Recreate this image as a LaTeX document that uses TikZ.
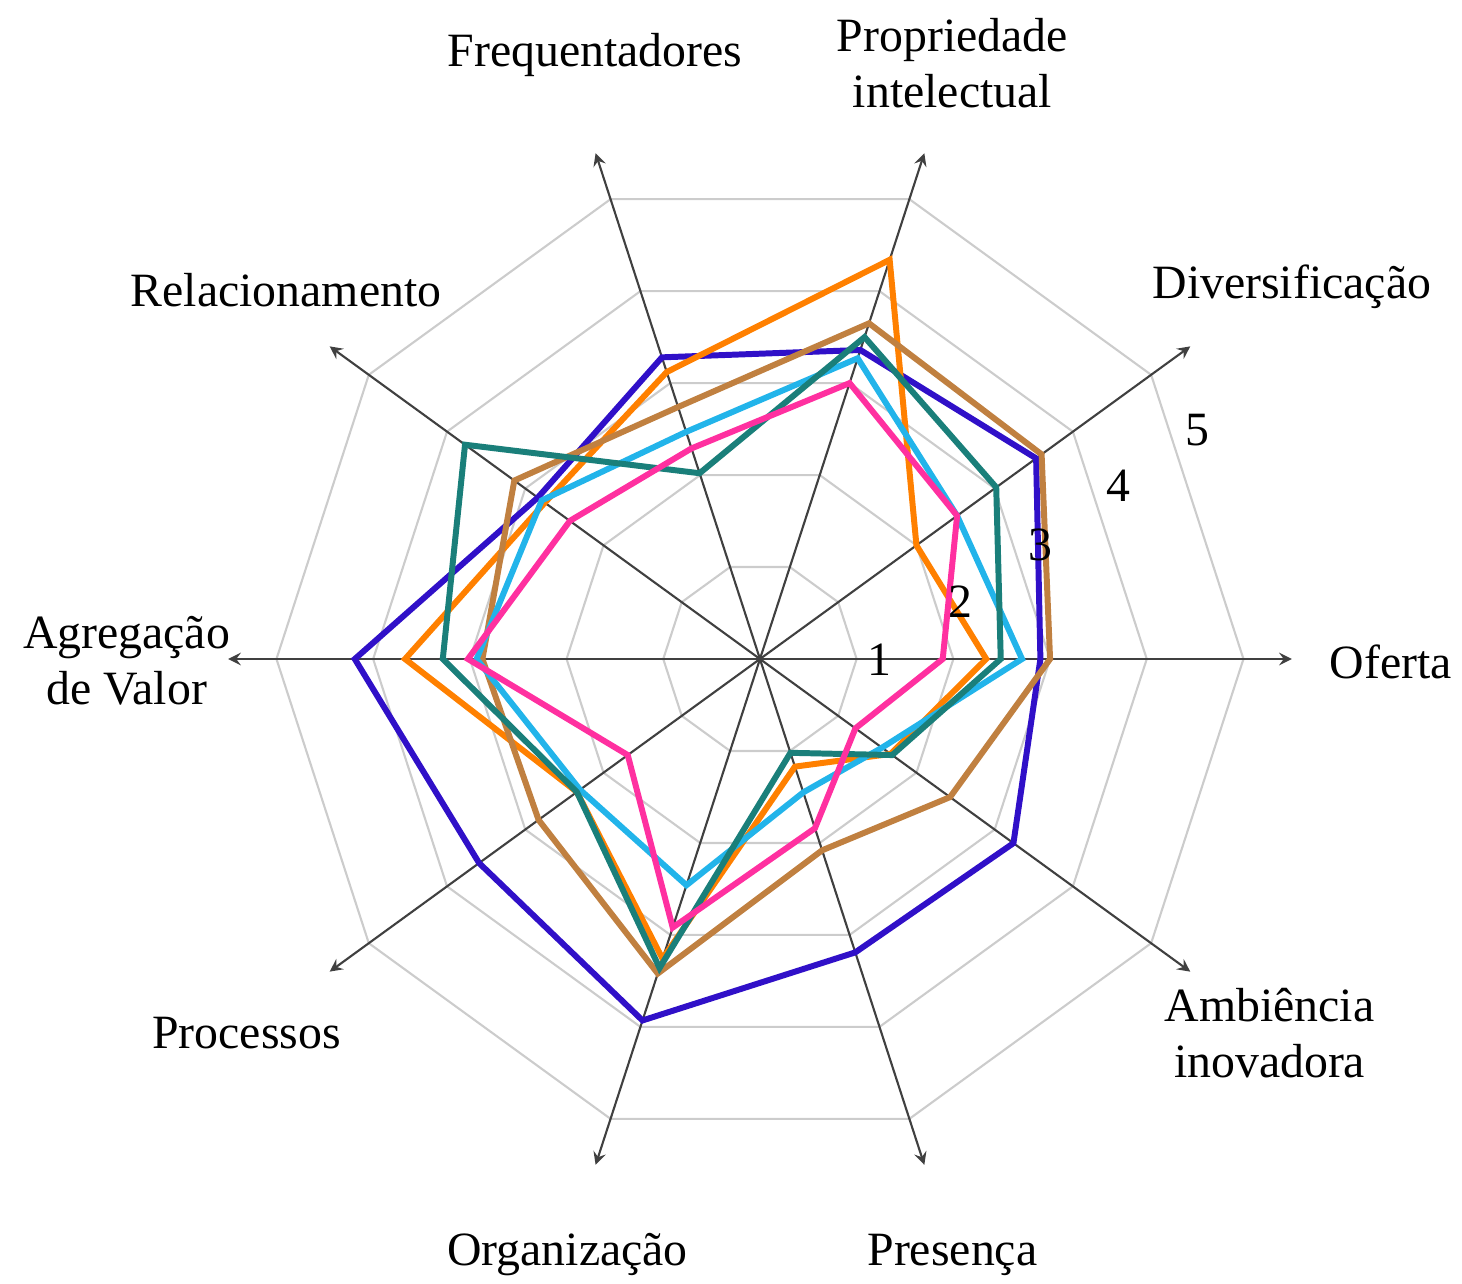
\documentclass[tikz,border=0pt]{standalone}
\usepackage{fontspec}
\setmainfont{Liberation Serif}

\definecolor{serblue}{HTML}{3010C8}
\definecolor{serorange}{HTML}{FF8000}
\definecolor{serbrown}{HTML}{C08040}
\definecolor{serteal}{HTML}{1A7F7A}
\definecolor{sercyan}{HTML}{22B4EA}
\definecolor{serpink}{HTML}{FF30A0}

\tikzset{
  gridline/.style={gray!40, line width=0.6pt},
  axisline/.style={black!75, line width=0.6pt, -stealth},
  series/.style={line width=1.7pt, line join=miter},
  axislabel/.style={font=\fontsize{13.6}{16}\selectfont, align=center},
  ticklabel/.style={font=\fontsize{13.6}{16}\selectfont}
}

\begin{document}
\begin{tikzpicture}[x=0.967cm, y=0.967cm]
  \useasboundingbox (-7.859,-6.463) rectangle (7.260,6.815);
  \coordinate (o) at (0,0);
  \foreach \k in {1,...,5}
    \draw[gridline] (0:\k) \foreach \a in {36,72,...,324}{ -- (\a:\k)} -- cycle;
  \foreach \a [count=\i] in {0,36,...,324}{
    \coordinate (ax\i) at (\a:5.5);
    \draw[axisline] (o) -- (ax\i);
  }

  \draw[series, serblue] (0:2.90) -- (36:3.53) -- (72:3.36) -- (108:3.28)
    -- (144:2.84) -- (180:4.19) -- (216:3.59) -- (252:3.93) -- (288:3.19)
    -- (324:3.24) -- cycle;
  \draw[series, serorange] (0:2.34) -- (36:2.00) -- (72:4.34) -- (108:3.12)
    -- (144:2.75) -- (180:3.67) -- (216:2.34) -- (252:3.26) -- (288:1.17)
    -- (324:1.67) -- cycle;
  \draw[series, serbrown] (0:3.00) -- (36:3.60) -- (72:3.65) -- (108:2.74)
    -- (144:3.14) -- (180:2.87) -- (216:2.83) -- (252:3.42) -- (288:2.08)
    -- (324:2.43) -- cycle;
  \draw[series, sercyan] (0:2.71) -- (36:2.52) -- (72:3.27) -- (108:2.47)
    -- (144:2.79) -- (180:2.93) -- (216:2.30) -- (252:2.46) -- (288:1.45)
    -- (324:1.56) -- cycle;
  \draw[series, serteal] (0:2.49) -- (36:3.02) -- (72:3.50) -- (108:2.02)
    -- (144:3.77) -- (180:3.28) -- (216:2.34) -- (252:3.36) -- (288:1.02)
    -- (324:1.69) -- cycle;
  \draw[series, serpink] (0:1.89) -- (36:2.52) -- (72:3.00) -- (108:2.29)
    -- (144:2.43) -- (180:3.02) -- (216:1.69) -- (252:2.92) -- (288:1.84)
    -- (324:1.22) -- cycle;

  \foreach \k/\px/\py in {1/1.24/-0.01, 2/2.07/0.59, 3/2.90/1.18, 4/3.71/1.79, 5/4.52/2.37}
    \node[ticklabel] (tick\k) at (\px,\py) {\k};

  \node[axislabel] (oferta) at (6.525,-0.03) {Oferta};
  \node[axislabel] (divers) at (5.50,3.85) {Diversificação};
  \node[axislabel] (propint) at (1.99,6.16) {Propriedade\\intelectual};
  \node[axislabel] (freq) at (-1.706,6.246) {Frequentadores};
  \node[axislabel] (relac) at (-4.90,3.81) {Relacionamento};
  \node[axislabel] (agreg) at (-6.55,-0.02) {Agregação\\de Valor};
  \node[axislabel] (proc) at (-5.31,-3.87) {Processos};
  \node[axislabel] (organiz) at (-1.99,-6.16) {Organização};
  \node[axislabel] (presenca) at (1.99,-6.16) {Presença};
  \node[axislabel] (ambien) at (5.27,-3.87) {Ambiência\\inovadora};
\end{tikzpicture}
\end{document}
